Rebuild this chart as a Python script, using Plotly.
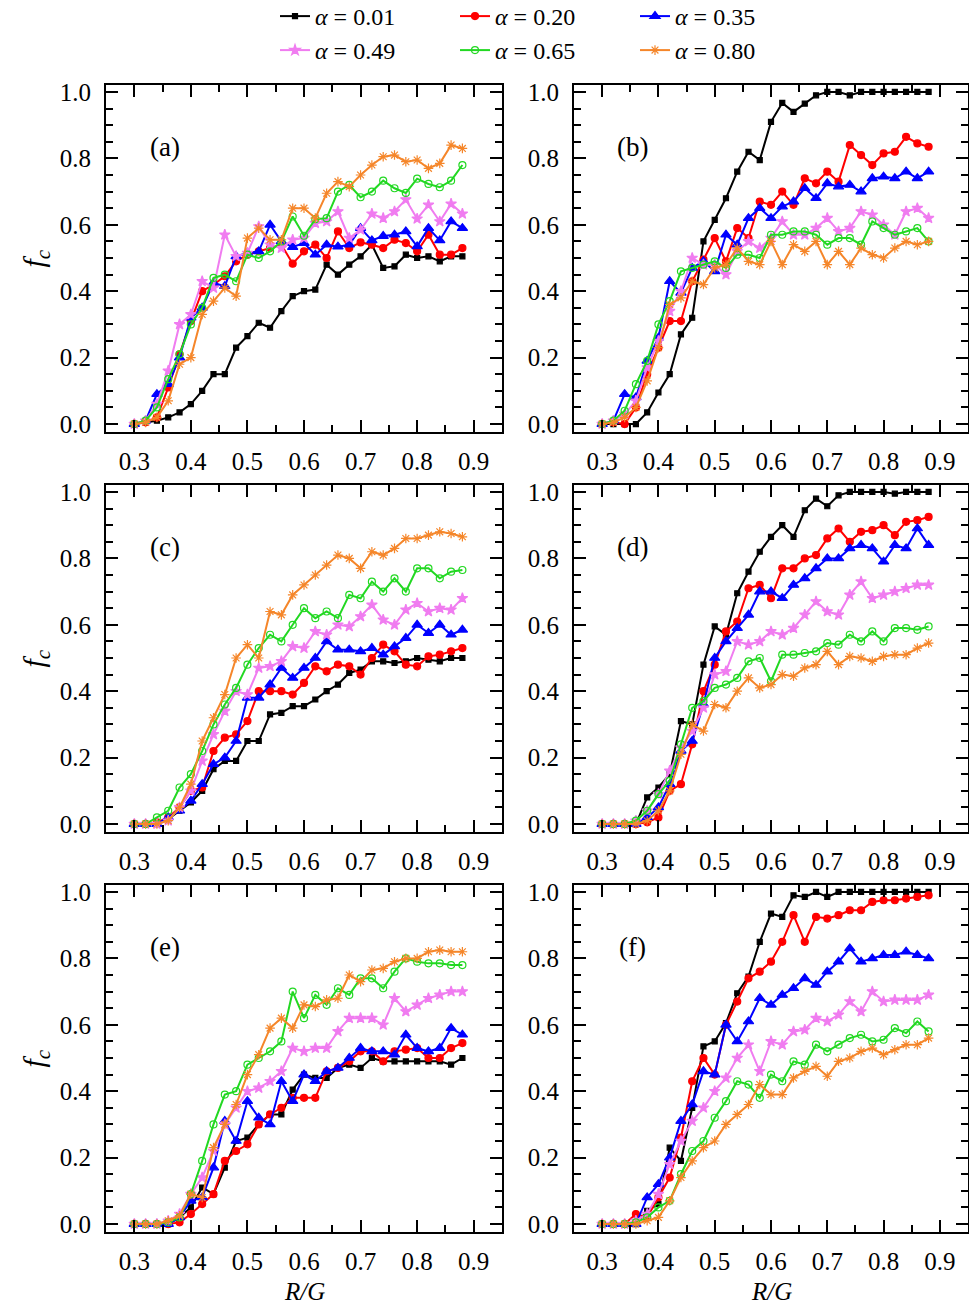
import plotly.graph_objects as go

# ---------------- data ----------------
R_G = [0.30, 0.32, 0.34, 0.36, 0.38, 0.40, 0.42, 0.44, 0.46, 0.48,
       0.50, 0.52, 0.54, 0.56, 0.58, 0.60, 0.62, 0.64, 0.66, 0.68,
       0.70, 0.72, 0.74, 0.76, 0.78, 0.80, 0.82, 0.84, 0.86, 0.88]

ALPHA_LABELS = ["0.01", "0.20", "0.35", "0.49", "0.65", "0.80"]
PANEL_LABELS = ["(a)", "(b)", "(c)", "(d)", "(e)", "(f)"]
X_TICKS = [0.3, 0.4, 0.5, 0.6, 0.7, 0.8, 0.9]
Y_TICKS = [0.0, 0.2, 0.4, 0.6, 0.8, 1.0]

# panel (a)
A_001 = [0, 0.005, 0.01, 0.02, 0.035, 0.06, 0.10, 0.15, 0.15, 0.23, 0.265, 0.305, 0.29, 0.34, 0.385,
         0.40, 0.405, 0.48, 0.45, 0.48, 0.505, 0.54, 0.47, 0.475, 0.51, 0.50, 0.505, 0.49, 0.505, 0.505]
A_020 = [0, 0.005, 0.02, 0.11, 0.21, 0.31, 0.40, 0.42, 0.445, 0.49, 0.51, 0.52, 0.53, 0.54, 0.483,
         0.52, 0.54, 0.50, 0.58, 0.53, 0.547, 0.54, 0.53, 0.555, 0.545, 0.52, 0.57, 0.51, 0.51, 0.53]
A_035 = [0, 0.01, 0.09, 0.12, 0.20, 0.32, 0.35, 0.425, 0.415, 0.505, 0.515, 0.52, 0.60, 0.55, 0.533,
         0.545, 0.51, 0.54, 0.534, 0.54, 0.59, 0.553, 0.566, 0.57, 0.58, 0.535, 0.59, 0.553, 0.61, 0.59]
A_049 = [0, 0.01, 0.06, 0.16, 0.30, 0.33, 0.43, 0.41, 0.57, 0.505, 0.515, 0.595, 0.54, 0.53, 0.555,
         0.56, 0.605, 0.61, 0.64, 0.56, 0.585, 0.633, 0.62, 0.64, 0.676, 0.618, 0.66, 0.61, 0.663, 0.633]
A_065 = [0, 0.01, 0.05, 0.135, 0.21, 0.30, 0.35, 0.44, 0.45, 0.43, 0.51, 0.50, 0.52, 0.55, 0.625,
         0.567, 0.617, 0.62, 0.70, 0.72, 0.683, 0.70, 0.733, 0.71, 0.696, 0.739, 0.723, 0.713, 0.733, 0.78]
A_080 = [0, 0.005, 0.02, 0.07, 0.18, 0.20, 0.33, 0.37, 0.41, 0.385, 0.56, 0.59, 0.555, 0.555, 0.65,
         0.65, 0.62, 0.695, 0.73, 0.715, 0.75, 0.78, 0.805, 0.81, 0.79, 0.795, 0.77, 0.785, 0.84, 0.83]

# panel (b)
B_001 = [0, 0, 0, 0, 0.035, 0.095, 0.15, 0.27, 0.32, 0.55, 0.615, 0.68, 0.76, 0.82, 0.795,
         0.91, 0.967, 0.94, 0.965, 0.99, 1.0, 1.0, 0.99, 1.0, 1.0, 1.0, 1.0, 1.0, 1.0, 1.0]
B_020 = [0, 0.005, 0.0, 0.05, 0.15, 0.23, 0.31, 0.31, 0.43, 0.495, 0.56, 0.49, 0.59, 0.56, 0.67,
         0.66, 0.70, 0.66, 0.74, 0.725, 0.76, 0.73, 0.84, 0.81, 0.78, 0.815, 0.82, 0.865, 0.845, 0.835]
B_035 = [0, 0.01, 0.09, 0.08, 0.19, 0.26, 0.43, 0.395, 0.47, 0.49, 0.46, 0.57, 0.54, 0.62, 0.65,
         0.62, 0.655, 0.67, 0.71, 0.68, 0.725, 0.715, 0.72, 0.70, 0.74, 0.745, 0.74, 0.76, 0.74, 0.76]
B_049 = [0, 0.01, 0.03, 0.07, 0.17, 0.25, 0.34, 0.40, 0.50, 0.48, 0.48, 0.45, 0.52, 0.55, 0.53,
         0.56, 0.61, 0.57, 0.57, 0.59, 0.62, 0.58, 0.59, 0.64, 0.63, 0.60, 0.57, 0.64, 0.65, 0.62]
B_065 = [0, 0.01, 0.04, 0.12, 0.19, 0.30, 0.37, 0.46, 0.47, 0.48, 0.49, 0.47, 0.51, 0.51, 0.50,
         0.57, 0.57, 0.58, 0.58, 0.57, 0.54, 0.56, 0.56, 0.54, 0.61, 0.59, 0.57, 0.58, 0.59, 0.55]
B_080 = [0, 0.005, 0.02, 0.05, 0.13, 0.23, 0.36, 0.38, 0.43, 0.42, 0.47, 0.48, 0.53, 0.49, 0.48,
         0.55, 0.48, 0.54, 0.52, 0.55, 0.48, 0.52, 0.48, 0.53, 0.51, 0.50, 0.53, 0.55, 0.54, 0.55]

# panel (c)
C_001 = [0, 0, 0, 0.015, 0.04, 0.065, 0.10, 0.165, 0.19, 0.19, 0.25, 0.25, 0.33, 0.335, 0.355,
         0.355, 0.375, 0.40, 0.42, 0.455, 0.465, 0.49, 0.49, 0.485, 0.49, 0.50, 0.495, 0.49, 0.50, 0.50]
C_020 = [0, 0, 0.005, 0.02, 0.05, 0.10, 0.11, 0.22, 0.26, 0.27, 0.31, 0.40, 0.40, 0.40, 0.39,
         0.425, 0.475, 0.46, 0.48, 0.475, 0.45, 0.50, 0.54, 0.52, 0.48, 0.475, 0.505, 0.51, 0.52, 0.53]
C_035 = [0, 0, 0, 0.02, 0.04, 0.07, 0.12, 0.18, 0.20, 0.25, 0.38, 0.38, 0.42, 0.47, 0.44,
         0.47, 0.50, 0.55, 0.525, 0.525, 0.52, 0.53, 0.51, 0.535, 0.56, 0.60, 0.575, 0.60, 0.57, 0.585]
C_049 = [0, 0, 0, 0.01, 0.05, 0.10, 0.19, 0.27, 0.34, 0.40, 0.39, 0.47, 0.475, 0.49, 0.535,
         0.53, 0.58, 0.57, 0.60, 0.595, 0.625, 0.66, 0.615, 0.60, 0.645, 0.665, 0.64, 0.65, 0.645, 0.68]
C_065 = [0, 0, 0.02, 0.04, 0.11, 0.15, 0.22, 0.30, 0.36, 0.41, 0.48, 0.53, 0.57, 0.55, 0.60,
         0.65, 0.62, 0.64, 0.62, 0.69, 0.68, 0.73, 0.70, 0.74, 0.70, 0.77, 0.77, 0.74, 0.76, 0.765]
C_080 = [0, 0, 0, 0.01, 0.05, 0.12, 0.25, 0.32, 0.39, 0.50, 0.54, 0.50, 0.64, 0.63, 0.69,
         0.72, 0.75, 0.78, 0.81, 0.80, 0.77, 0.82, 0.81, 0.83, 0.86, 0.86, 0.87, 0.88, 0.875, 0.865]

# panel (d)
D_001 = [0, 0, 0, 0, 0.08, 0.11, 0.15, 0.31, 0.30, 0.48, 0.595, 0.57, 0.695, 0.76, 0.82,
         0.865, 0.90, 0.865, 0.945, 0.98, 0.957, 0.99, 1.0, 1.0, 1.0, 1.0, 0.995, 1.0, 1.0, 1.0]
D_020 = [0, 0, 0, 0, 0.005, 0.02, 0.10, 0.12, 0.24, 0.40, 0.48, 0.58, 0.61, 0.71, 0.72,
         0.68, 0.77, 0.77, 0.80, 0.81, 0.86, 0.89, 0.85, 0.88, 0.885, 0.90, 0.87, 0.91, 0.915, 0.925]
D_035 = [0, 0, 0, 0, 0.02, 0.05, 0.12, 0.22, 0.25, 0.36, 0.50, 0.55, 0.59, 0.63, 0.70,
         0.70, 0.68, 0.72, 0.74, 0.77, 0.80, 0.80, 0.83, 0.84, 0.83, 0.79, 0.84, 0.83, 0.89, 0.84]
D_049 = [0, 0, 0, 0.01, 0.04, 0.09, 0.16, 0.23, 0.28, 0.35, 0.45, 0.46, 0.55, 0.54, 0.55,
         0.58, 0.57, 0.59, 0.63, 0.67, 0.64, 0.63, 0.69, 0.73, 0.68, 0.69, 0.70, 0.71, 0.72, 0.72]
D_065 = [0, 0, 0, 0.01, 0.04, 0.09, 0.13, 0.24, 0.35, 0.37, 0.41, 0.42, 0.44, 0.49, 0.50,
         0.43, 0.51, 0.51, 0.515, 0.52, 0.545, 0.54, 0.57, 0.55, 0.58, 0.55, 0.59, 0.59, 0.585, 0.595]
D_080 = [0, 0, 0, 0, 0.01, 0.04, 0.10, 0.21, 0.30, 0.28, 0.36, 0.35, 0.40, 0.44, 0.41,
         0.42, 0.45, 0.445, 0.47, 0.48, 0.52, 0.48, 0.505, 0.50, 0.49, 0.505, 0.51, 0.51, 0.53, 0.545]

# panel (e)
E_001 = [0, 0, 0, 0, 0.02, 0.05, 0.11, 0.09, 0.17, 0.25, 0.26, 0.30, 0.33, 0.33, 0.405,
         0.45, 0.44, 0.44, 0.47, 0.48, 0.47, 0.50, 0.49, 0.49, 0.49, 0.49, 0.49, 0.49, 0.48, 0.50]
E_020 = [0, 0, 0, 0, 0.005, 0.03, 0.06, 0.09, 0.19, 0.22, 0.24, 0.30, 0.33, 0.35, 0.38,
         0.38, 0.38, 0.46, 0.47, 0.49, 0.52, 0.52, 0.49, 0.52, 0.525, 0.53, 0.50, 0.50, 0.53, 0.545]
E_035 = [0, 0, 0, 0, 0.02, 0.07, 0.08, 0.17, 0.31, 0.25, 0.37, 0.32, 0.30, 0.43, 0.37,
         0.45, 0.43, 0.46, 0.47, 0.50, 0.53, 0.52, 0.52, 0.51, 0.57, 0.53, 0.52, 0.53, 0.59, 0.57]
E_049 = [0, 0, 0, 0.01, 0.03, 0.09, 0.14, 0.22, 0.30, 0.35, 0.40, 0.41, 0.43, 0.46, 0.53,
         0.52, 0.53, 0.53, 0.58, 0.62, 0.62, 0.62, 0.60, 0.68, 0.64, 0.66, 0.68, 0.69, 0.70, 0.70]
E_065 = [0, 0, 0, 0.005, 0.02, 0.09, 0.19, 0.30, 0.39, 0.40, 0.48, 0.50, 0.52, 0.55, 0.70,
         0.62, 0.69, 0.66, 0.71, 0.69, 0.74, 0.74, 0.71, 0.76, 0.80, 0.79, 0.785, 0.785, 0.78, 0.78]
E_080 = [0, 0, 0, 0.01, 0.025, 0.09, 0.08, 0.23, 0.30, 0.36, 0.45, 0.51, 0.59, 0.62, 0.59,
         0.66, 0.655, 0.675, 0.68, 0.75, 0.73, 0.765, 0.77, 0.79, 0.80, 0.80, 0.82, 0.825, 0.82, 0.82]

# panel (f)
F_001 = [0, 0, 0, 0, 0.04, 0.06, 0.23, 0.19, 0.35, 0.535, 0.55, 0.605, 0.695, 0.745, 0.85,
         0.935, 0.925, 0.99, 0.985, 1.0, 0.985, 1.0, 1.0, 1.0, 1.0, 1.0, 1.0, 1.0, 1.0, 1.0]
F_020 = [0, 0, 0, 0.03, 0.02, 0.08, 0.14, 0.26, 0.43, 0.50, 0.45, 0.60, 0.67, 0.74, 0.76,
         0.79, 0.85, 0.93, 0.85, 0.925, 0.92, 0.93, 0.945, 0.945, 0.97, 0.975, 0.975, 0.98, 0.985, 0.99]
F_035 = [0, 0, 0, 0, 0.08, 0.12, 0.20, 0.31, 0.36, 0.46, 0.45, 0.60, 0.55, 0.61, 0.68,
         0.66, 0.69, 0.71, 0.74, 0.72, 0.76, 0.79, 0.83, 0.79, 0.80, 0.81, 0.81, 0.82, 0.81, 0.80]
F_049 = [0, 0, 0, 0.01, 0.03, 0.09, 0.18, 0.25, 0.31, 0.35, 0.40, 0.44, 0.50, 0.54, 0.46,
         0.55, 0.54, 0.58, 0.585, 0.62, 0.61, 0.63, 0.67, 0.64, 0.70, 0.67, 0.675, 0.675, 0.675, 0.69]
F_065 = [0, 0, 0, 0.005, 0.02, 0.05, 0.07, 0.15, 0.22, 0.25, 0.32, 0.37, 0.43, 0.42, 0.38,
         0.45, 0.43, 0.49, 0.48, 0.54, 0.52, 0.54, 0.56, 0.57, 0.55, 0.555, 0.59, 0.575, 0.61, 0.58]
F_080 = [0, 0, 0, 0, 0.01, 0.02, 0.07, 0.14, 0.19, 0.23, 0.25, 0.30, 0.33, 0.36, 0.42,
         0.39, 0.39, 0.44, 0.46, 0.475, 0.445, 0.49, 0.50, 0.52, 0.53, 0.51, 0.525, 0.54, 0.54, 0.56]

PANELS = [
    [A_001, A_020, A_035, A_049, A_065, A_080],
    [B_001, B_020, B_035, B_049, B_065, B_080],
    [C_001, C_020, C_035, C_049, C_065, C_080],
    [D_001, D_020, D_035, D_049, D_065, D_080],
    [E_001, E_020, E_035, E_049, E_065, E_080],
    [F_001, F_020, F_035, F_049, F_065, F_080],
]

# ---------------- styles ----------------
COLORS = ["#000000", "#FF0000", "#0000FF", "#F07CF0", "#22D822", "#F5862A"]
SYMBOLS = ["square", "circle", "triangle-up", "star", "circle-open", "asterisk-open"]
SIZES = [5, 7, 9, 8, 7, 8]
FONT = "Liberation Serif, 'Times New Roman', Times, serif"

W, H = 969, 1310
COL_X = [(106, 502), (574, 968)]          # pixel spans of the plot boxes
ROW_Y = [(85, 432), (485, 832), (885, 1232)]

fig = go.Figure()
layout = dict(
    width=W, height=H,
    margin=dict(l=0, r=0, t=0, b=0, autoexpand=False),
    paper_bgcolor="white", plot_bgcolor="white",
    font=dict(family=FONT, size=25, color="black"),
    showlegend=True,
)

annotations = []
for k, series in enumerate(PANELS):
    r, c = divmod(k, 2)
    n = "" if k == 0 else str(k + 1)
    xa, ya = "x" + n, "y" + n
    x0, x1 = COL_X[c]
    y0, y1 = ROW_Y[r]
    axis_common = dict(
        showline=True, linecolor="black", linewidth=2, mirror="allticks",
        ticks="inside", ticklen=12, tickwidth=2, tickcolor="black",
        showgrid=False, zeroline=False, automargin=False,
        tickfont=dict(family=FONT, size=25, color="black"),
    )
    layout["xaxis" + n] = dict(
        domain=[x0 / W, x1 / W], anchor=ya, range=[0.25, 0.95],
        tickvals=X_TICKS, ticktext=[f"{v:.1f}" for v in X_TICKS],
        minor=dict(dtick=0.05, tick0=0.3, ticks="inside", ticklen=7, tickwidth=2, tickcolor="black"),
        ticklabelstandoff=6,
        **axis_common,
    )
    layout["yaxis" + n] = dict(
        domain=[1 - y1 / H, 1 - y0 / H], anchor=xa, range=[-0.024, 1.021],
        tickvals=Y_TICKS, ticktext=[f"{v:.1f}" for v in Y_TICKS],
        minor=dict(dtick=0.05, tick0=0, ticks="inside", ticklen=7, tickwidth=2, tickcolor="black"),
        ticklabelstandoff=8,
        **axis_common,
    )
    for j, ys in enumerate(series):
        fig.add_trace(go.Scatter(
            x=R_G, y=ys, xaxis=xa, yaxis=ya, mode="lines+markers",
            name=f"<i>α</i> = {ALPHA_LABELS[j]}",
            legendgroup=f"g{j}", showlegend=(k == 0),
            legend="legend" if j < 3 else "legend2",
            line=dict(color=COLORS[j], width=2),
            marker=dict(symbol=SYMBOLS[j], size=SIZES[j], color=COLORS[j],
                        line=dict(color=COLORS[j], width=1.2)),
        ))
    annotations.append(dict(
        text=PANEL_LABELS[k], xref=xa + " domain", yref=ya + " domain",
        x=0.148, y=0.822, showarrow=False, xanchor="center", yanchor="middle",
        font=dict(family=FONT, size=27, color="black"),
    ))

for r in range(3):
    y0, y1 = ROW_Y[r]
    annotations.append(dict(
        text="<i>f</i><sub><i>c</i></sub>", xref="paper", yref="paper",
        x=35 / W, y=1 - (y0 + y1) / 2 / H, showarrow=False, textangle=-90,
        xanchor="center", yanchor="middle",
        font=dict(family=FONT, size=30, color="black"),
    ))
for c in range(2):
    x0, x1 = COL_X[c]
    annotations.append(dict(
        text="<i>R/G</i>", xref="paper", yref="paper",
        x=(x0 + x1) / 2 / W, y=1 - 1291 / H, showarrow=False,
        xanchor="center", yanchor="middle",
        font=dict(family=FONT, size=25, color="black"),
    ))

legend_common = dict(
    orientation="h", xanchor="left", yanchor="top",
    font=dict(family=FONT, size=24, color="black"),
    bgcolor="rgba(0,0,0,0)", entrywidth=135, entrywidthmode="pixels",
    itemsizing="trace",
)
layout["legend"] = dict(x=275 / W, y=1 + 6 / H, **legend_common)
layout["legend2"] = dict(x=275 / W, y=1 - 28 / H, **legend_common)
layout["annotations"] = annotations

fig.update_layout(**layout)
fig.write_html("out.html")
